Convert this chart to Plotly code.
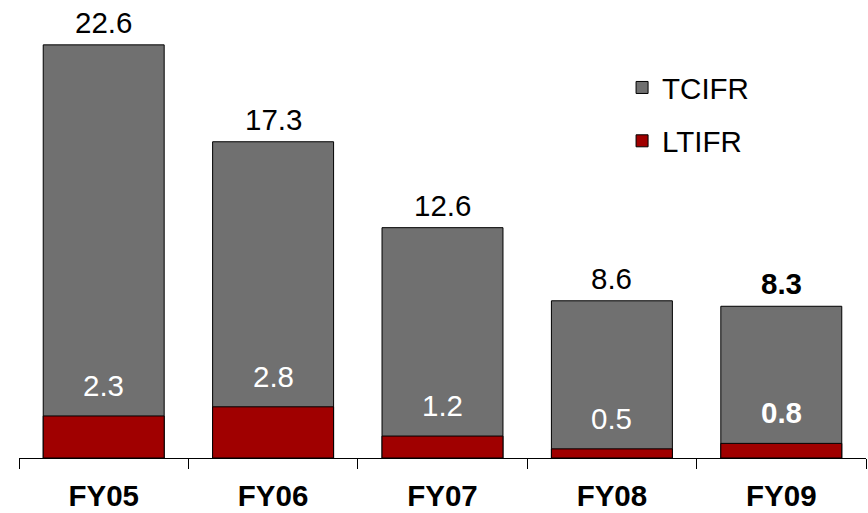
import plotly.graph_objects as go

categories = ["FY05", "FY06", "FY07", "FY08", "FY09"]
tcifr = [22.6, 17.3, 12.6, 8.6, 8.3]
ltifr = [2.3, 2.8, 1.2, 0.5, 0.8]
bold_last = [False, False, False, False, True]

FONT = "Liberation Sans, Arial, sans-serif"
FS = 29.5

def fmt(v, b):
    s = f"{v:.1f}"
    return f"<b>{s}</b>" if b else s

fig = go.Figure()
fig.add_trace(go.Bar(
    x=categories, y=tcifr, name="TCIFR", legendgroup="a",
    marker=dict(color="#707070", line=dict(color="#000000", width=1)),
))
fig.add_trace(go.Bar(
    x=categories, y=ltifr, name="LTIFR", legendgroup="b",
    marker=dict(color="#a00000", line=dict(color="#000000", width=1)),
))

annotations = []
for c, v, b in zip(categories, tcifr, bold_last):
    annotations.append(dict(x=c, y=v, xref="x", yref="y", text=fmt(v, b),
                            showarrow=False, yanchor="bottom", yshift=4,
                            font=dict(family=FONT, size=FS, color="#000000")))
for c, v, b in zip(categories, ltifr, bold_last):
    annotations.append(dict(x=c, y=v, xref="x", yref="y", text=fmt(v, b),
                            showarrow=False, yanchor="bottom", yshift=12,
                            font=dict(family=FONT, size=FS, color="#ffffff")))

fig.update_layout(
    width=868, height=513,
    margin=dict(l=19, r=2, t=1, b=55),
    barmode="overlay", bargap=0.286,
    plot_bgcolor="#ffffff", paper_bgcolor="#ffffff",
    font=dict(family=FONT, size=FS, color="#000000"),
    showlegend=True,
    legend=dict(x=0.712, y=0.867, xanchor="left", yanchor="top",
                traceorder="grouped", tracegroupgap=12,
                font=dict(family=FONT, size=FS, color="#000000"),
                bgcolor="rgba(0,0,0,0)"),
    annotations=annotations,
    xaxis=dict(showline=True, linecolor="#000000", linewidth=1,
               ticks="outside", ticklen=10, tickcolor="#000000", tickwidth=1,
               tickson="boundaries", showgrid=False, zeroline=False,
               automargin=False,
               tickfont=dict(family=FONT, size=FS, color="#000000", weight="bold"),
               ticklabelstandoff=12),
    yaxis=dict(visible=False, range=[0, 25.0], showgrid=False, zeroline=False,
               automargin=False),
)

fig.write_html(
    "out.html",
    config={"displayModeBar": False},
    post_script="document.body.style.margin='0';document.body.style.overflow='hidden';",
)
